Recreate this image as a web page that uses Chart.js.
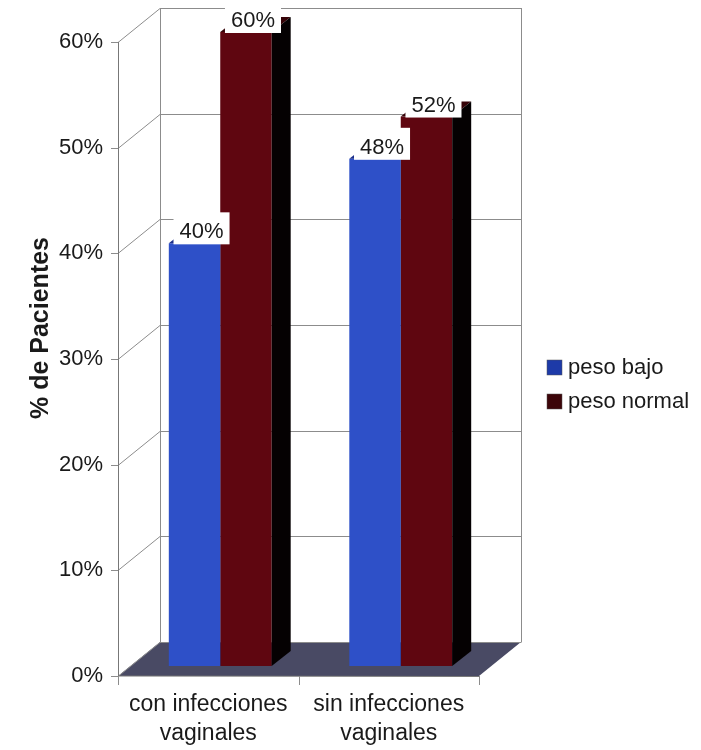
<!DOCTYPE html>
<html>
<head>
<meta charset="utf-8">
<script src="https://cdn.jsdelivr.net/npm/chart.js@4.4.0/dist/chart.umd.min.js"></script>
<style>
  html, body { margin: 0; padding: 0; background: #ffffff; }
  #wrap { width: 701px; height: 750px; position: relative; }
</style>
</head>
<body>
<div id="wrap"><canvas id="chart" width="701" height="750"></canvas></div>
<script>
// ---- data ----
const categories = [['con infecciones', 'vaginales'], ['sin infecciones', 'vaginales']];
const seriesNames = ['peso bajo', 'peso normal'];
const pesoBajo = [40, 48];
const pesoNormal = [60, 52];
const yTickValues = [0, 10, 20, 30, 40, 50, 60];
const yAxisTitle = '% de Pacientes';

// ---- styling ----
const FONT = "'Liberation Sans', Arial, Helvetica, sans-serif";
const TEXT = '#1a1a1a';
const GRID = '#8c8c8c';
const FLOOR = '#494a64';
const frontColors = ['#2e50c8', '#5f0610'];
const topColors = ['#1c2f8a', '#360308'];
const sideColors = ['#101a60', '#050102'];
const legendColors = ['#1d3aa8', '#3c0509'];

// 3D geometry: full depth of the box, bar offset into the box, bar depth
const DX = 42, DY = -34;
const SX = 12, SY = -10;
const BX = 19, BY = -15;

function crisp(v) { return Math.round(v) + 0.5; }

// front rectangle of a bar, in the shifted (mid-depth) plane
function frontRect(bar) {
  const p = bar.getProps(['x', 'y', 'base', 'width'], true);
  return {
    xl: p.x - p.width / 2 + SX, xr: p.x + p.width / 2 + SX,
    yt: p.y + SY, yb: p.base + SY
  };
}

const box3d = {
  id: 'box3d',
  beforeDatasetsDraw(chart) {
    const ctx = chart.ctx;
    const { left, right, top, bottom } = chart.chartArea;
    const ys = chart.scales.y;
    ctx.save();
    // floor
    ctx.fillStyle = FLOOR;
    ctx.beginPath();
    ctx.moveTo(left, bottom);
    ctx.lineTo(left + DX, bottom + DY);
    ctx.lineTo(right + DX, bottom + DY);
    ctx.lineTo(right, bottom);
    ctx.closePath();
    ctx.fill();

    ctx.strokeStyle = GRID;
    ctx.lineWidth = 1;
    // gridlines on the side and back walls, plus tick stubs
    yTickValues.forEach(v => {
      const y = ys.getPixelForValue(v);
      ctx.beginPath();
      ctx.moveTo(left - 7, crisp(y));
      ctx.lineTo(left, crisp(y));
      ctx.lineTo(left + DX, crisp(y + DY));
      ctx.lineTo(crisp(right + DX), crisp(y + DY));
      ctx.stroke();
    });
    // wall edges
    ctx.beginPath();
    ctx.moveTo(crisp(left + DX), top + DY);
    ctx.lineTo(crisp(left + DX), bottom + DY);
    ctx.moveTo(crisp(right + DX), top + DY);
    ctx.lineTo(crisp(right + DX), bottom + DY);
    ctx.stroke();
    // front value axis and floor front edge
    ctx.strokeStyle = '#777777';
    ctx.beginPath();
    ctx.moveTo(crisp(left), top);
    ctx.lineTo(crisp(left), bottom);
    ctx.lineTo(right, crisp(bottom));
    ctx.stroke();
    // category boundary ticks
    const n = categories.length;
    ctx.strokeStyle = GRID;
    for (let i = 0; i <= n; i++) {
      const x = crisp(left + i * (right - left) / n);
      ctx.beginPath();
      ctx.moveTo(x, bottom);
      ctx.lineTo(x, bottom + 9);
      ctx.stroke();
    }
    ctx.restore();
  },
  beforeDatasetDraw(chart) {
    chart.ctx.save();
    chart.ctx.translate(SX, SY);
  },
  afterDatasetDraw(chart, args) {
    const ctx = chart.ctx;
    ctx.restore();
    const di = args.index;
    const meta = chart.getDatasetMeta(di);
    const nsets = chart.data.datasets.length;
    meta.data.forEach((bar, i) => {
      const r = frontRect(bar);
      ctx.save();
      // faces stay hidden behind the front of the neighbouring bar on the right
      ctx.beginPath();
      ctx.rect(0, 0, chart.width, chart.height);
      for (let k = di + 1; k < nsets; k++) {
        const o = frontRect(chart.getDatasetMeta(k).data[i]);
        ctx.rect(o.xl, o.yt, o.xr - o.xl, o.yb - o.yt);
      }
      ctx.clip('evenodd');
      // top face
      ctx.fillStyle = topColors[di];
      ctx.beginPath();
      ctx.moveTo(r.xl, r.yt);
      ctx.lineTo(r.xr, r.yt);
      ctx.lineTo(r.xr + BX, r.yt + BY);
      ctx.lineTo(r.xl + BX, r.yt + BY);
      ctx.closePath();
      ctx.fill();
      // right side face
      ctx.fillStyle = sideColors[di];
      ctx.beginPath();
      ctx.moveTo(r.xr, r.yt);
      ctx.lineTo(r.xr + BX, r.yt + BY);
      ctx.lineTo(r.xr + BX, r.yb + BY);
      ctx.lineTo(r.xr, r.yb);
      ctx.closePath();
      ctx.fill();
      ctx.restore();
    });
  },
  afterDatasetsDraw(chart) {
    const ctx = chart.ctx;
    ctx.save();
    // value labels on white boxes
    ctx.font = '22px ' + FONT;
    ctx.textAlign = 'center';
    ctx.textBaseline = 'middle';
    chart.data.datasets.forEach((ds, di) => {
      const meta = chart.getDatasetMeta(di);
      meta.data.forEach((bar, i) => {
        const p = bar.getProps(['x', 'y'], true);
        const txt = ds.data[i] + '%';
        const cx = p.x + SX + 7, cy = p.y + SY - 12;
        const w = ctx.measureText(txt).width + 12;
        ctx.fillStyle = '#ffffff';
        ctx.fillRect(cx - w / 2, cy - 19, w, 32);
        ctx.fillStyle = TEXT;
        ctx.fillText(txt, cx, cy + 1);
      });
    });
    // legend
    const lx = 547, ly = 360, gap = 34;
    chart.data.datasets.forEach((ds, di) => {
      const y = ly + di * gap;
      ctx.fillStyle = legendColors[di];
      ctx.fillRect(lx, y, 15, 15);
      ctx.strokeStyle = '#555';
      ctx.lineWidth = 0.5;
      ctx.strokeRect(lx, y, 15, 15);
      ctx.fillStyle = TEXT;
      ctx.textAlign = 'left';
      ctx.fillText(ds.label, lx + 21, y + 8);
    });
    // value-axis title
    ctx.translate(41, 328);
    ctx.rotate(-Math.PI / 2);
    ctx.font = 'bold 25px ' + FONT;
    ctx.textAlign = 'center';
    ctx.fillStyle = TEXT;
    ctx.fillText(yAxisTitle, 0, 0);
    ctx.restore();
  }
};

new Chart(document.getElementById('chart'), {
  type: 'bar',
  data: {
    labels: categories,
    datasets: [
      { label: seriesNames[0], data: pesoBajo, backgroundColor: frontColors[0], clip: false },
      { label: seriesNames[1], data: pesoNormal, backgroundColor: frontColors[1], clip: false }
    ]
  },
  options: {
    responsive: false,
    animation: false,
    devicePixelRatio: 1,
    layout: { padding: { left: 0, top: 42, right: 222, bottom: 0 } },
    datasets: { bar: { categoryPercentage: 0.57, barPercentage: 1, borderWidth: 0 } },
    plugins: { legend: { display: false }, tooltip: { enabled: false } },
    scales: {
      x: {
        grid: { display: false, drawTicks: false },
        border: { display: false },
        ticks: { color: TEXT, font: { family: FONT, size: 23, lineHeight: 1.27 }, padding: 14, maxRotation: 0 },
        afterFit(scale) { scale.height = 74; }
      },
      y: {
        min: 0, max: 60,
        grid: { display: false, drawTicks: false },
        border: { display: false },
        ticks: {
          stepSize: 10, color: TEXT, padding: 15,
          font: { family: FONT, size: 22 },
          callback: v => v + '%'
        },
        afterFit(scale) { scale.width = 118; }
      }
    }
  },
  plugins: [box3d]
});
</script>
</body>
</html>
